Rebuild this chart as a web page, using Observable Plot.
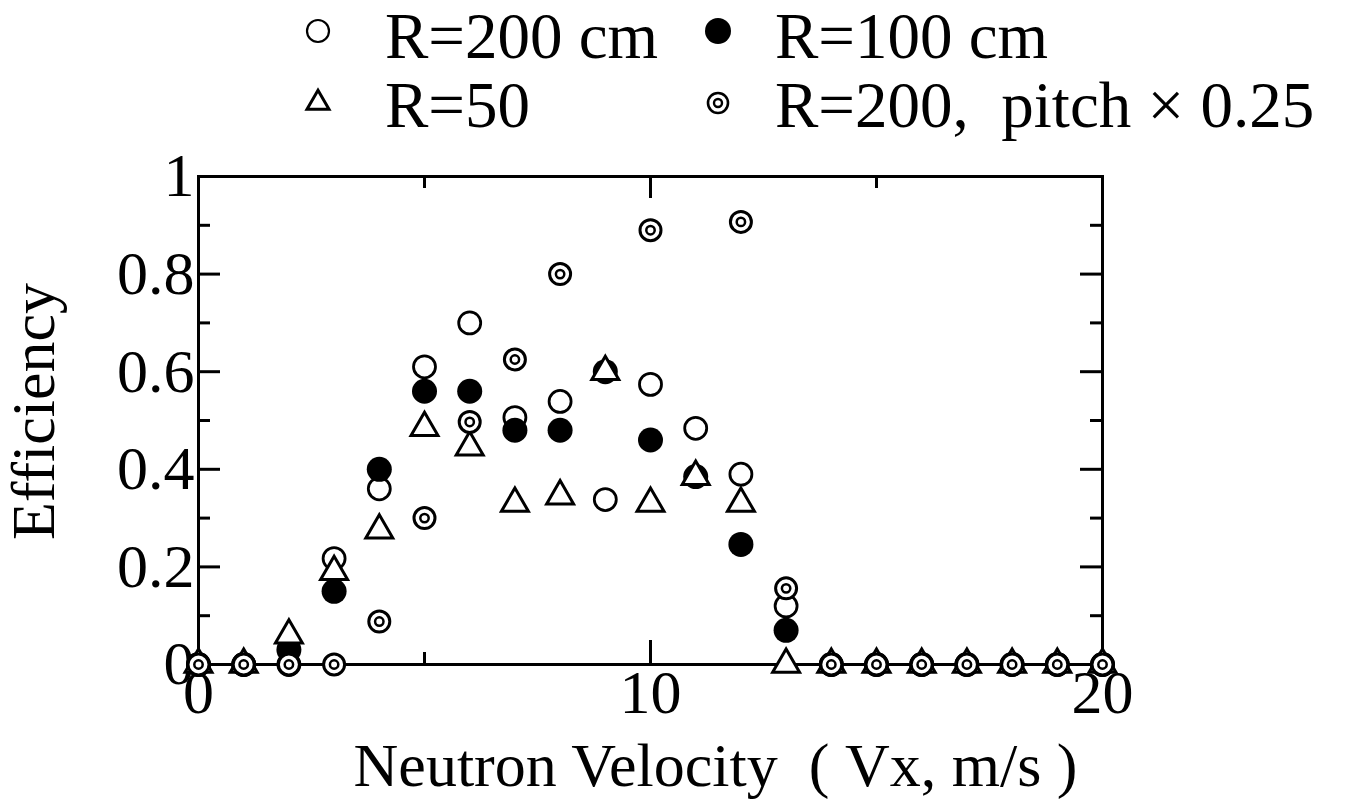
<!DOCTYPE html>
<html><head><meta charset="utf-8">
<script src="https://cdn.jsdelivr.net/npm/d3@7"></script>
<script src="https://cdn.jsdelivr.net/npm/@observablehq/plot@0.6"></script>
<style>
html,body{margin:0;padding:0;background:#fff;}
#wrap{width:1371px;height:801px;position:relative;overflow:hidden;background:#fff;}
svg{display:block;}
</style></head><body><div id="wrap"></div>
<script>
// ---- data ----
const vx      = [0,1,2,3,4,5,6,7,8,9,10,11,12,13,14,15,16,17,18,19,20];
const r200    = [0,0,0,0.217,0.36,0.61,0.70,0.506,0.539,0.338,0.574,0.484,0.39,0.12,0,0,0,0,0,0,0];
const r100    = [0,0,0.03,0.15,0.40,0.56,0.56,0.48,0.48,0.60,0.46,0.385,0.246,0.07,0,0,0,0,0,0,0];
const r50     = [0,0,0.06,0.19,0.275,0.485,0.445,0.33,0.345,0.60,0.33,0.385,0.33,0,0,0,0,0,0,0,0];
const pitchVx = [0,1,2,3,4,5,6,7,8,10,12,13,14,15,16,17,18,19,20];
const pitch   = [0,0,0,0,0.088,0.30,0.497,0.625,0.80,0.89,0.907,0.156,0,0,0,0,0,0,0];

const seriesLabels = ["R=200 cm", "R=100 cm", "R=50", "R=200,\u00a0 pitch \u00d7 0.25"];
const seriesSymbols = ["open", "filled", "triangle", "double"];
const xTickLabels = [0, 10, 20];
const yTickLabels = [0, 0.2, 0.4, 0.6, 0.8, 1];
const yMajor = [0.2, 0.4, 0.6, 0.8];
const yMinor = [0.1, 0.3, 0.5, 0.7, 0.9];
const xMajor = [10];
const xMinor = [5, 15];
const xTitle = "Neutron Velocity\u00a0 (\u00a0Vx, m/s\u00a0)";
const yTitle = "Efficiency";

// ---- layout ----
const W = 1371, LEG_H = 150, H = 651;
const mL = 198, mR = 269, mT = 26, mB = 137;
const plotW = W - mL - mR, plotH = H - mT - mB;
const FONT = "'Liberation Serif', 'Times New Roman', serif";
const wrap = document.getElementById("wrap");

// ---- legend ----
const leg = d3.select(wrap).append("svg").attr("width", W).attr("height", LEG_H)
  .style("font-family", FONT);
const symX = [318, 718], textX = [385, 775], rowY = [31, 103], baseY = [58, 127];
seriesLabels.forEach((lab, i) => {
  const c = i % 2, r = Math.floor(i / 2);
  const g = leg.append("g").attr("transform", `translate(${symX[c]},${rowY[r]})`);
  const s = seriesSymbols[i];
  if (s === "open") g.append("circle").attr("r", 11).attr("fill", "#fff").attr("stroke", "#000").attr("stroke-width", 2.2);
  if (s === "filled") g.append("circle").attr("r", 13).attr("fill", "#000");
  if (s === "triangle") g.append("path").attr("d", d3.symbol(d3.symbolTriangle, 210)()).attr("fill", "#fff").attr("stroke", "#000").attr("stroke-width", 3);
  if (s === "double") {
    g.append("circle").attr("r", 10).attr("fill", "#fff").attr("stroke", "#000").attr("stroke-width", 2.6);
    g.append("circle").attr("r", 4).attr("fill", "#fff").attr("stroke", "#000").attr("stroke-width", 2.4);
  }
  leg.append("text").attr("x", textX[c]).attr("y", baseY[r])
    .attr("font-size", 65).attr("fill", "#000").style("white-space", "pre").text(lab);
});

// ---- plot ----
const rows = (xs, ys) => xs.map((x, i) => ({vx: x, eff: ys[i]}));
const d200 = rows(vx, r200), d100 = rows(vx, r100), d50 = rows(vx, r50), dP = rows(pitchVx, pitch);

const chart = Plot.plot({
  width: W, height: H,
  marginLeft: mL, marginRight: mR, marginTop: mT, marginBottom: mB,
  style: {fontFamily: FONT, background: "#fff", color: "#000", overflow: "visible"},
  x: {domain: [0, 20]},
  y: {domain: [0, 1]},
  marks: [
    Plot.frame({stroke: "#000", strokeWidth: 3}),
    Plot.tickY(yMajor, {y: d => d, insetRight: plotW - 22, strokeWidth: 3}),
    Plot.tickY(yMinor, {y: d => d, insetRight: plotW - 12, strokeWidth: 3}),
    Plot.tickY(yMajor, {y: d => d, insetLeft: plotW - 22, strokeWidth: 3}),
    Plot.tickY(yMinor, {y: d => d, insetLeft: plotW - 12, strokeWidth: 3}),
    Plot.tickX(xMajor, {x: d => d, insetTop: plotH - 24, strokeWidth: 3}),
    Plot.tickX(xMinor, {x: d => d, insetTop: plotH - 12, strokeWidth: 3}),
    Plot.tickX(xMajor, {x: d => d, insetBottom: plotH - 22, strokeWidth: 3}),
    Plot.tickX(xMinor, {x: d => d, insetBottom: plotH - 12, strokeWidth: 3}),
    Plot.axisY({ticks: yTickLabels, tickSize: 0, tickPadding: 4, fontSize: 62, label: null,
      tickFormat: d => (d === 0 || d === 1) ? String(d) : d.toFixed(1)}),
    Plot.axisX({ticks: xTickLabels, tickSize: 0, tickPadding: 4, fontSize: 62, label: null,
      tickFormat: d => String(d)}),
    Plot.text([yTitle], {text: d => d, frameAnchor: "left", textAnchor: "middle", rotate: -90, dx: -164, dy: -9, fontSize: 62}),
    Plot.text([xTitle], {text: d => d, frameAnchor: "bottom", textAnchor: "middle", dx: 65, dy: 121, lineAnchor: "bottom", fontSize: 62}),
    Plot.dot(d200, {x: "vx", y: "eff", r: 11, fill: "#fff", stroke: "#000", strokeWidth: 2.8}),
    Plot.dot(d100, {x: "vx", y: "eff", r: 12.5, fill: "#000", stroke: "none"}),
    Plot.dot(d50, {x: "vx", y: "eff", symbol: "triangle", r: 10, fill: "#fff", stroke: "#000", strokeWidth: 3}),
    Plot.dot(dP, {x: "vx", y: "eff", r: 10.5, fill: "#fff", stroke: "#000", strokeWidth: 3}),
    Plot.dot(dP, {x: "vx", y: "eff", r: 4.2, fill: "#fff", stroke: "#000", strokeWidth: 2.5})
  ]
});
wrap.appendChild(chart);
</script></body></html>
